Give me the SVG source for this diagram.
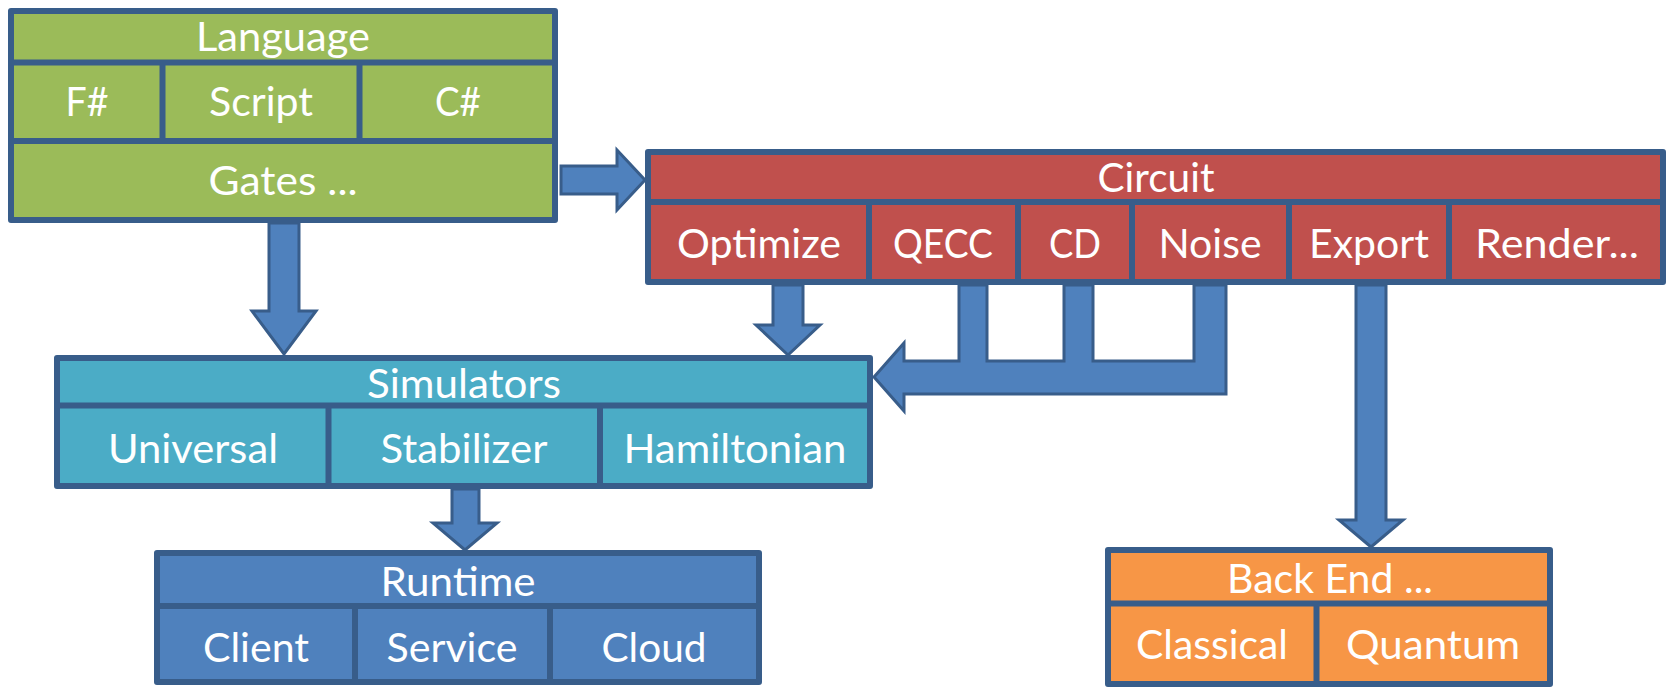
<svg xmlns="http://www.w3.org/2000/svg" width="1669" height="687" viewBox="0 0 1669 687">
<style>
.box{stroke:#385D8A;stroke-width:6;stroke-linejoin:round}
.div{stroke:#385D8A;stroke-width:6;fill:none}
.g{fill:#9BBB59}.r{fill:#C0504D}.c{fill:#4BACC6}.b{fill:#4F81BD}.o{fill:#F79646}
text{font-family:Lato,"Open Sans","Liberation Sans",sans-serif;font-size:41px;fill:#FFFFFF;text-anchor:middle}
.arrow{fill:#4F81BD;stroke:#385D8A;stroke-width:3;stroke-linejoin:miter}
</style>
<rect width="1669" height="687" fill="#FFFFFF"/>
<g id="connectors">
<path class="arrow" d="M561,166 H617 V150 L645,180 L617,210 V194 H561 Z"/>
<path class="arrow" d="M269,223 H299 V311 H316 L284,354 L252,311 H269 Z"/>
<path class="arrow" d="M773,285 H803 V325 H820 L788,355 L756,325 H773 Z"/>
<path class="arrow" d="M874,377 L904,343 V361 H959 V285 H987 V361 H1064 V285 H1093 V361 H1194 V285 H1226 V394 H904 V411 Z"/>
<path class="arrow" d="M1356,285 H1386 V520 H1403 L1371,547 L1339,520 H1356 Z"/>
<path class="arrow" d="M452,489 H479 V523 H497 L465,550 L433,523 H452 Z"/>
</g>
<g id="language">
<rect class="box g" x="11" y="11" width="544" height="209"/>
<path class="div" d="M11,62.5 H555 M11,141 H555 M162.5,62.5 V141 M359.5,62.5 V141"/>
<text x="283" y="51" textLength="174" lengthAdjust="spacingAndGlyphs">Language</text>
<text x="87" y="116" textLength="43" lengthAdjust="spacingAndGlyphs">F#</text>
<text x="261" y="116" textLength="104" lengthAdjust="spacingAndGlyphs">Script</text>
<text x="458" y="116" textLength="46" lengthAdjust="spacingAndGlyphs">C#</text>
<text x="283" y="195" textLength="149" lengthAdjust="spacingAndGlyphs">Gates ...</text>
</g>
<g id="circuit">
<rect class="box r" x="648" y="152" width="1015" height="130"/>
<path class="div" d="M648,202 H1663 M869,202 V282 M1018,202 V282 M1132,202 V282 M1289,202 V282 M1449,202 V282"/>
<text x="1156" y="192" textLength="117" lengthAdjust="spacingAndGlyphs">Circuit</text>
<text x="759" y="258" textLength="164" lengthAdjust="spacingAndGlyphs">Optimize</text>
<text x="943" y="258" textLength="100" lengthAdjust="spacingAndGlyphs">QECC</text>
<text x="1075" y="258" textLength="52" lengthAdjust="spacingAndGlyphs">CD</text>
<text x="1210" y="258" textLength="103" lengthAdjust="spacingAndGlyphs">Noise</text>
<text x="1369" y="258" textLength="120" lengthAdjust="spacingAndGlyphs">Export</text>
<text x="1557" y="258" textLength="164" lengthAdjust="spacingAndGlyphs">Render...</text>
</g>
<g id="simulators">
<rect class="box c" x="57" y="358" width="813" height="128"/>
<path class="div" d="M57,405.5 H870 M328.5,405.5 V486 M600,405.5 V486"/>
<text x="464" y="398" textLength="194" lengthAdjust="spacingAndGlyphs">Simulators</text>
<text x="193" y="463" textLength="170" lengthAdjust="spacingAndGlyphs">Universal</text>
<text x="464" y="463" textLength="167" lengthAdjust="spacingAndGlyphs">Stabilizer</text>
<text x="735" y="463" textLength="223" lengthAdjust="spacingAndGlyphs">Hamiltonian</text>
</g>
<g id="runtime">
<rect class="box b" x="157" y="553" width="602" height="129"/>
<path class="div" d="M157,606 H759 M355,606 V682 M550,606 V682"/>
<text x="458" y="596" textLength="155" lengthAdjust="spacingAndGlyphs">Runtime</text>
<text x="256" y="662" textLength="106" lengthAdjust="spacingAndGlyphs">Client</text>
<text x="452" y="662" textLength="131" lengthAdjust="spacingAndGlyphs">Service</text>
<text x="654" y="662" textLength="105" lengthAdjust="spacingAndGlyphs">Cloud</text>
</g>
<g id="backend">
<rect class="box o" x="1108" y="550" width="442" height="134"/>
<path class="div" d="M1108,603.5 H1550 M1316.5,603.5 V684"/>
<text x="1330" y="593" textLength="206" lengthAdjust="spacingAndGlyphs">Back End ...</text>
<text x="1212" y="659" textLength="152" lengthAdjust="spacingAndGlyphs">Classical</text>
<text x="1433" y="659" textLength="174" lengthAdjust="spacingAndGlyphs">Quantum</text>
</g>
</svg>
